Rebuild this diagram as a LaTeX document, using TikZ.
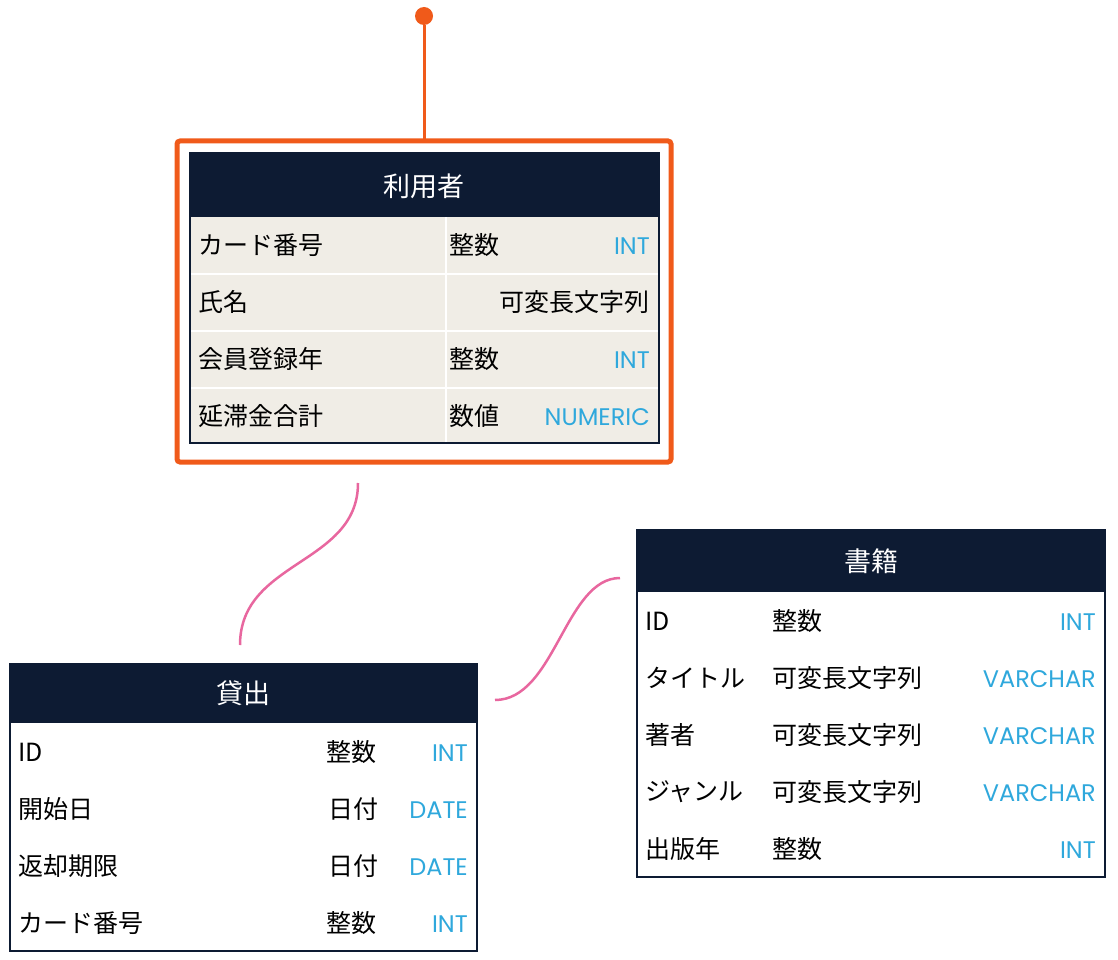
\documentclass[tikz,border=0pt]{standalone}
\usepackage{fontspec}
\setmainfont{Noto Sans CJK JP}
\newfontfamily\sqlfont{Poppins}
\definecolor{navy}{HTML}{0D1B33}
\definecolor{beige}{HTML}{F0EDE6}
\definecolor{hilite}{HTML}{F05A1A}
\definecolor{relpink}{HTML}{E8679F}
\definecolor{sqlblue}{HTML}{2FA8DC}
\tikzset{
  hdr/.style={text=white,font=\fontsize{27}{30}\selectfont},
  fld/.style={anchor=west,inner sep=0pt,font=\fontsize{25}{28}\selectfont},
  sql/.style={anchor=east,inner sep=0pt,text=sqlblue,font=\sqlfont\fontsize{24}{28}\selectfont},
  rel/.style={relpink,line width=2.5pt},
}
\begin{document}
\begin{tikzpicture}[x=1pt,y=-1pt]
  \useasboundingbox (0,0) rectangle (1118,960);

  % user table
  \draw[hilite,line width=5pt,rounded corners=3pt] (177,141) rectangle (671,462);
  \fill[beige] (190,217) rectangle (659,443);
  \fill[navy] (190,153) rectangle (659,217);
  \foreach \y in {274,331,388} \draw[white,line width=2pt] (190,\y) -- (659,\y);
  \draw[white,line width=2pt] (446,217) -- (446,443);
  \draw[navy,line width=1.5pt] (190,153) rectangle (659,443);
  \node[hdr] (user) at (424,186) {利用者};
  \node[fld] (u1) at (198,245) {カード番号};
  \node[fld] (u2) at (198,302) {氏名};
  \node[fld] (u3) at (198,359) {会員登録年};
  \node[fld] (u4) at (198,416) {延滞金合計};
  \node[fld] (ut1) at (449,245) {整数};
  \node[fld,anchor=east] (ut2) at (650,302) {可変長文字列};
  \node[fld] (ut3) at (449,359) {整数};
  \node[fld] (ut4) at (449,416) {数値};
  \node[sql] (us1) at (650,246) {INT};
  \node[sql] (us3) at (650,360) {INT};
  \node[sql] (us4) at (650,417) {NUMERIC};
  \node[circle,fill=hilite,inner sep=0pt,minimum size=18pt] (pin) at (424,16) {};
  \draw[hilite,line width=3pt] (pin) -- (424,141);

  % loan table
  \fill[navy] (10,664) rectangle (477,723);
  \draw[navy,line width=1.5pt] (10,664) rectangle (477,951);
  \node[hdr] (loan) at (243,693) {貸出};
  \node[fld] (l1) at (18,752) {ID};
  \node[fld] (l2) at (18,809) {開始日};
  \node[fld] (l3) at (18,866) {返却期限};
  \node[fld] (l4) at (18,923) {カード番号};
  \node[fld] (lt1) at (326,752) {整数};
  \node[fld] (lt2) at (328,809) {日付};
  \node[fld] (lt3) at (328,866) {日付};
  \node[fld] (lt4) at (326,923) {整数};
  \node[sql] (ls1) at (468,753) {INT};
  \node[sql] (ls2) at (468,810) {DATE};
  \node[sql] (ls3) at (468,867) {DATE};
  \node[sql] (ls4) at (468,924) {INT};

  % book table
  \fill[navy] (637,530) rectangle (1105,592);
  \draw[navy,line width=1.5pt] (637,530) rectangle (1105,877);
  \node[hdr] (book) at (871,561) {書籍};
  \node[fld] (b1) at (645,621) {ID};
  \node[fld] (b2) at (645,678) {タイトル};
  \node[fld] (b3) at (645,735) {著者};
  \node[fld] (b4) at (645,792) {ジャンル};
  \node[fld] (b5) at (645,849) {出版年};
  \node[fld] (bt1) at (772,621) {整数};
  \node[fld] (bt2) at (772,678) {可変長文字列};
  \node[fld] (bt3) at (772,735) {可変長文字列};
  \node[fld] (bt4) at (772,792) {可変長文字列};
  \node[fld] (bt5) at (772,849) {整数};
  \node[sql] (bs1) at (1096,622) {INT};
  \node[sql] (bs2) at (1096,679) {VARCHAR};
  \node[sql] (bs3) at (1096,736) {VARCHAR};
  \node[sql] (bs4) at (1096,793) {VARCHAR};
  \node[sql] (bs5) at (1096,850) {INT};

  % relations
  \coordinate (r1a) at (358,483);
  \coordinate (r1b) at (240,645);
  \coordinate (r2a) at (620,578);
  \coordinate (r2b) at (495,700);
  \draw[rel] (r1a) .. controls (358,565) and (240,560) .. (r1b);
  \draw[rel] (r2a) .. controls (565,578) and (555,700) .. (r2b);
\end{tikzpicture}
\end{document}
